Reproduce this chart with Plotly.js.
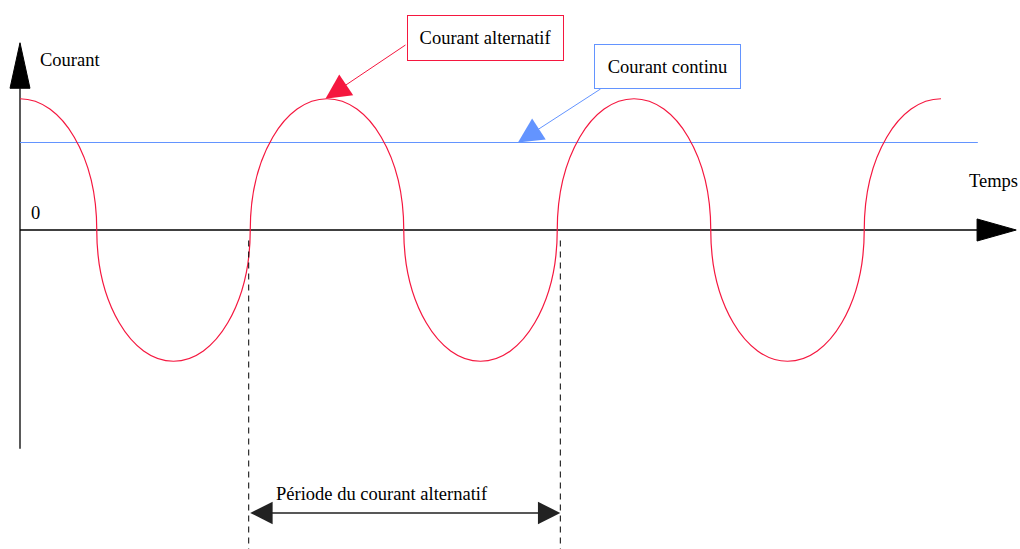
<!DOCTYPE html>
<html>
<head>
<meta charset="utf-8">
<script src="https://cdn.plot.ly/plotly-3.0.1.min.js"></script>
<style>
  html, body { margin: 0; padding: 0; background: #fff; }
  #graph { width: 1020px; height: 549px; }
</style>
</head>
<body>
<div id="graph"></div>
<script>
// courant alternatif vs courant continu, time in ms, current in A

// alternating current: peaks / troughs and zero crossings
var peakTimes = [0, 10, 20, 30, 40, 50, 60];
var peakValues = [1.5, -1.5, 1.5, -1.5, 1.5, -1.5, 1.5];
var zeroTimes = [5, 15, 25, 35, 45, 55];

// direct current
var dcTimes = [0, 62.4];
var dcValues = [1, 1];

// one period marked below the axis
var periodStart = 14.9, periodEnd = 35.2;

// axis extents
var tAxisEnd = 62.35, tArrowTip = 64.9;
var iAxisBottom = -2.5, iArrowBase = 1.62, iArrowTip = 2.14;

var RED = '#f5173f';
var BLUE = '#6394ff';
var FONT = 'Liberation Serif, Times New Roman, serif';

// half-waves drawn as elliptic arcs (cubic bezier)
var kap = 0.5523;
var path = 'M' + peakTimes[0] + ',' + peakValues[0];
for (var i = 0; i < zeroTimes.length; i++) {
  var p0 = peakTimes[i], v0 = peakValues[i];
  var z = zeroTimes[i];
  var p1 = peakTimes[i + 1], v1 = peakValues[i + 1];
  path += ' C' + (p0 + (z - p0) * kap) + ',' + v0 + ' ' + z + ',' + (v0 * kap) + ' ' + z + ',0';
  path += ' C' + z + ',' + (v1 * kap) + ' ' + (p1 - (p1 - z) * kap) + ',' + v1 + ' ' + p1 + ',' + v1;
}

var data = [];

// x axis line
data.push({ x: [0, tAxisEnd], y: [0, 0], mode: 'lines',
  line: { color: '#000', width: 1.3 }, hoverinfo: 'skip' });
// y axis line
data.push({ x: [0, 0], y: [iAxisBottom, iArrowBase], mode: 'lines',
  line: { color: '#000', width: 1.3 }, hoverinfo: 'skip' });
// courant continu
data.push({ x: dcTimes, y: dcValues, mode: 'lines',
  line: { color: BLUE, width: 1.2 }, hoverinfo: 'skip' });

var shapes = [
  { type: 'path', xref: 'x', yref: 'y', path: path,
    line: { color: RED, width: 1.2 } },
  // arrow heads of the axes
  { type: 'path', xref: 'x', yref: 'y',
    path: 'M-0.65,' + iArrowBase + ' L0.65,' + iArrowBase + ' L0,' + iArrowTip + ' Z',
    fillcolor: '#000', line: { color: '#000', width: 1 } },
  { type: 'path', xref: 'x', yref: 'y',
    path: 'M' + tAxisEnd + ',-0.126 L' + tAxisEnd + ',0.126 L' + tArrowTip + ',0 Z',
    fillcolor: '#000', line: { color: '#000', width: 1 } },
  // period markers
  { type: 'line', xref: 'x', yref: 'y', x0: periodStart, x1: periodStart, y0: -0.12, y1: -3.7,
    line: { color: '#000', width: 1, dash: '6px,5px' } },
  { type: 'line', xref: 'x', yref: 'y', x0: periodEnd, x1: periodEnd, y0: -0.12, y1: -3.7,
    line: { color: '#000', width: 1, dash: '6px,5px' } }
];

var annotations = [
  { x: 1.2, y: 1.94, xref: 'x', yref: 'y', text: 'Courant', showarrow: false,
    xanchor: 'left', font: { family: FONT, size: 18.5, color: '#000' } },
  { x: 1.0, y: 0.19, xref: 'x', yref: 'y', text: '0', showarrow: false,
    font: { family: FONT, size: 18.5, color: '#000' } },
  { x: 63.45, y: 0.56, xref: 'x', yref: 'y', text: 'Temps', showarrow: false,
    font: { family: FONT, size: 18.5, color: '#000' } },
  // labelled boxes
  { x: 30.33, y: 2.19, xref: 'x', yref: 'y', text: 'Courant alternatif', showarrow: false,
    width: 155, height: 44, borderpad: 0, bordercolor: RED, borderwidth: 1, bgcolor: '#fff',
    font: { family: FONT, size: 18.5, color: '#000' } },
  { x: 42.18, y: 1.87, xref: 'x', yref: 'y', text: 'Courant continu', showarrow: false,
    width: 145, height: 43, borderpad: 0, bordercolor: BLUE, borderwidth: 1, bgcolor: '#fff',
    font: { family: FONT, size: 18.5, color: '#000' } },
  // callout arrows
  { x: peakTimes[2] - 0.1, y: peakValues[2], xref: 'x', yref: 'y', ax: 25.21, ay: 2.126,
    axref: 'x', ayref: 'y', text: '', showarrow: true, arrowhead: 2, arrowsize: 5,
    arrowwidth: 1, arrowcolor: RED, standoff: 0 },
  { x: 32.44, y: dcValues[0], xref: 'x', yref: 'y', ax: 37.92, ay: 1.623,
    axref: 'x', ayref: 'y', text: '', showarrow: true, arrowhead: 2, arrowsize: 5,
    arrowwidth: 1, arrowcolor: BLUE, standoff: 0 },
  // period
  { x: periodEnd, y: -3.234, xref: 'x', yref: 'y', ax: periodStart, ay: -3.234,
    axref: 'x', ayref: 'y', text: '', showarrow: true, arrowhead: 2, startarrowhead: 2,
    arrowside: 'end+start', arrowsize: 3.2, startarrowsize: 3.2, arrowwidth: 1.4,
    arrowcolor: '#222', standoff: 0, startstandoff: 0 },
  { x: 23.6, y: -3.02, xref: 'x', yref: 'y', text: 'Période du courant alternatif', showarrow: false,
    font: { family: FONT, size: 18.5, color: '#000' } }
];

var layout = {
  width: 1020,
  height: 549,
  margin: { l: 0, r: 0, t: 0, b: 0 },
  paper_bgcolor: '#fff',
  plot_bgcolor: '#fff',
  showlegend: false,
  xaxis: { range: [-1.303, 65.147], visible: false, fixedrange: true },
  yaxis: { range: [-3.6457, 2.6286], visible: false, fixedrange: true },
  shapes: shapes,
  annotations: annotations
};

Plotly.newPlot('graph', data, layout, { staticPlot: true, displayModeBar: false });
</script>
</body>
</html>
